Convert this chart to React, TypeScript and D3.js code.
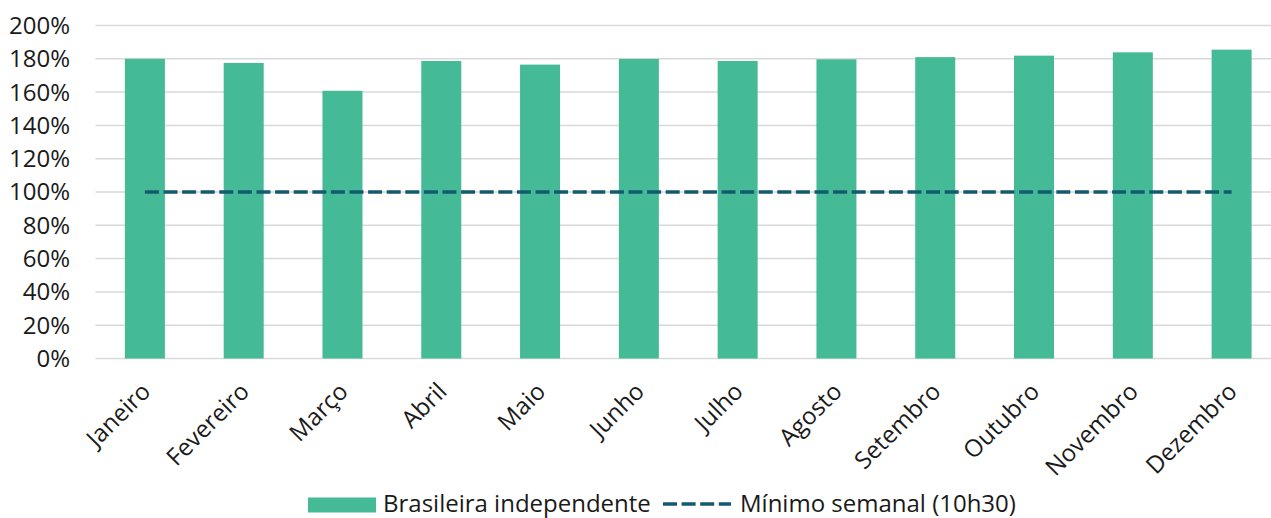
import React from "react";
import * as d3 from "d3";

const categories = ["Janeiro", "Fevereiro", "Março", "Abril", "Maio", "Junho", "Julho", "Agosto", "Setembro", "Outubro", "Novembro", "Dezembro"];
const brasileira = [180, 177.5, 160.8, 178.7, 176.5, 179.9, 178.7, 179.7, 181, 181.9, 183.9, 185.5];
const minimo = [100, 100, 100, 100, 100, 100, 100, 100, 100, 100, 100, 100];
const yTicks = [0, 20, 40, 60, 80, 100, 120, 140, 160, 180, 200];
const seriesNames = ["Brasileira independente", "Mínimo semanal (10h30)"];

const W = 1271;
const H = 518;
const FONT = "'Open Sans', 'Noto Sans', sans-serif";
const FS = 24;
const BAR = "#45BA96";
const LINE = "#135A71";
const GRID = "#D9D9D9";

export default function App() {
  const x = d3.scaleBand<string>().domain(categories).range([95.5, 1281]).paddingInner(0.595).paddingOuter(0.2975);
  const y = d3.scaleLinear().domain([0, 200]).range([358.5, 25.5]);
  const cx = (c: string) => (x(c) as number) + x.bandwidth() / 2;
  const line = d3.line<number>().x((_, i) => cx(categories[i])).y((d) => y(d));

  return (
    <svg width={W} height={H} style={{ position: "absolute", left: 0, top: 0, background: "#fff" }} fontFamily={FONT}>
      {yTicks.map((t) => (
        <g key={t}>
          <line x1={95.5} x2={1281} y1={y(t)} y2={y(t)} stroke={GRID} strokeWidth={1.5} />
          <text x={70} y={y(t)} dy="0.35em" textAnchor="end" fontSize={FS} fill="#1a1a1a">{t}%</text>
        </g>
      ))}
      {categories.map((c, i) => (
        <rect key={c} x={x(c)} y={y(brasileira[i])} width={x.bandwidth()} height={y(0) - y(brasileira[i])} fill={BAR} />
      ))}
      <path d={line(minimo) || ""} fill="none" stroke={LINE} strokeWidth={3.5} strokeDasharray="14 4.6" />
      {categories.map((c) => (
        <text key={c} transform={`translate(${cx(c) + 1},${387}) rotate(-45)`} textAnchor="end" dy="0.35em" fontSize={FS} fill="#1a1a1a">{c}</text>
      ))}
      <g>
        <rect x={308} y={497.5} width={68} height={15} fill={BAR} />
        <text x={383} y={503.5} dy="0.35em" fontSize={FS} fill="#1a1a1a">{seriesNames[0]}</text>
        <line x1={663} x2={731} y1={504} y2={504} stroke={LINE} strokeWidth={3.5} strokeDasharray="14 4.6" />
        <text x={740} y={503.5} dy="0.35em" fontSize={FS} fill="#1a1a1a">{seriesNames[1]}</text>
      </g>
    </svg>
  );
}
